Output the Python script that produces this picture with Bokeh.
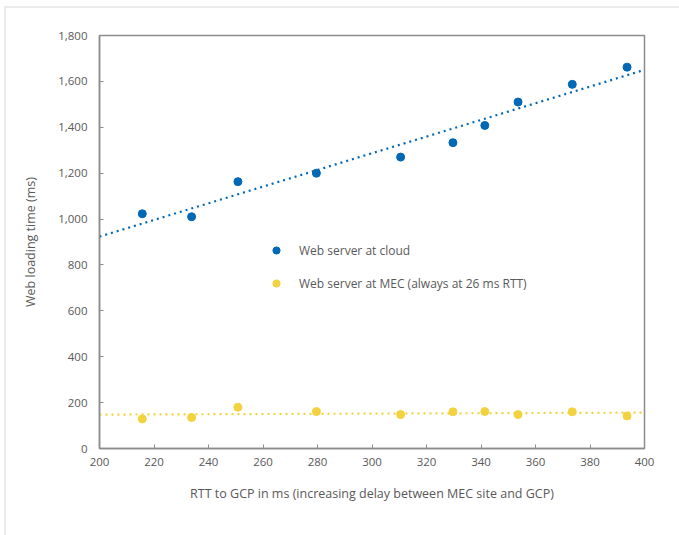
import numpy as np
from bokeh.plotting import figure
from bokeh.models import Range1d, FixedTicker, NumeralTickFormatter, Legend, LegendItem, ColumnDataSource
from bokeh.embed import file_html
from bokeh.resources import INLINE

# ---- data ----
rtt_ms = [215.7, 233.8, 250.8, 279.6, 310.5, 329.7, 341.4, 353.6, 373.5, 393.6]
cloud_ms = [1023, 1010, 1163, 1200, 1270, 1333, 1408, 1510, 1587, 1662]
mec_ms = [129, 135, 180, 161, 148, 160, 161, 148, 160, 142]
x_ticks = [200, 220, 240, 260, 280, 300, 320, 340, 360, 380, 400]
y_ticks = [0, 200, 400, 600, 800, 1000, 1200, 1400, 1600, 1800]
series_names = ["Web server at cloud", "Web server at MEC (always at 26 ms RTT)"]

BLUE = "#0068B5"
YELLOW = "#F3D23F"
GREY_TEXT = "#595959"
FRAME = "#8c8c8c"
FONT = "Open Sans"

p = figure(width=679, height=535, output_backend="svg", toolbar_location=None,
           x_range=Range1d(200, 400), y_range=Range1d(0, 1800),
           min_border_left=99, min_border_right=35, min_border_top=35, min_border_bottom=87)
p.frame_width = 545
p.frame_height = 413

p.xgrid.visible = False
p.ygrid.visible = False
p.outline_line_color = FRAME
p.outline_line_width = 1.5
p.background_fill_color = "white"
p.border_fill_alpha = 0
p.styles = {
    "background": "linear-gradient(#ebebeb,#ebebeb) 4px 6px / 2px 100% no-repeat, "
                  "linear-gradient(#ebebeb,#ebebeb) 4px 6px / 100% 2px no-repeat, white"
}

for ax in (p.xaxis[0], p.yaxis[0]):
    ax.axis_line_color = FRAME
    ax.axis_line_width = 1.5
    ax.major_tick_line_color = FRAME
    ax.major_tick_line_width = 1
    ax.major_tick_in = 4
    ax.major_tick_out = 0
    ax.minor_tick_line_color = None
    ax.major_label_text_color = GREY_TEXT
    ax.major_label_text_font = FONT
    ax.major_label_text_font_size = "11.5px"
    ax.axis_label_text_color = GREY_TEXT
    ax.axis_label_text_font = FONT
    ax.axis_label_text_font_style = "normal"
    ax.axis_label_text_font_size = "12.5px"

p.xaxis.ticker = FixedTicker(ticks=x_ticks)
p.yaxis.ticker = FixedTicker(ticks=y_ticks)
p.yaxis.formatter = NumeralTickFormatter(format="0,0")
p.xaxis.major_label_standoff = 9
p.yaxis.major_label_standoff = 12
p.xaxis.axis_label = "RTT to GCP in ms (increasing delay between MEC site and GCP)"
p.yaxis.axis_label = "Web loading time (ms)"
p.xaxis.axis_label_standoff = 16
p.yaxis.axis_label_standoff = 16

# trend lines (least squares fit of each series)
xs_fit = [200, 400]
c_fit = np.polyfit(rtt_ms, cloud_ms, 1)
m_fit = np.polyfit(rtt_ms, mec_ms, 1)
p.line(xs_fit, list(np.polyval(c_fit, xs_fit)), line_color=BLUE, line_width=2.2, line_dash="2 4")
p.line(xs_fit, list(np.polyval(m_fit, xs_fit)), line_color=YELLOW, line_width=2.2, line_dash="2 4")

src = ColumnDataSource(dict(x=rtt_ms, cloud=cloud_ms, mec=mec_ms))
r_cloud = p.scatter("x", "cloud", source=src, size=8, fill_color=BLUE, line_color=BLUE)
r_mec = p.scatter("x", "mec", source=src, size=8, fill_color=YELLOW, line_color=YELLOW)

legend = Legend(items=[LegendItem(label=series_names[0], renderers=[r_cloud]),
                       LegendItem(label=series_names[1], renderers=[r_mec])],
                location=(168, 156))
legend.border_line_color = None
legend.background_fill_alpha = 0
legend.padding = 0
legend.margin = 0
legend.spacing = 15
legend.glyph_width = 18
legend.glyph_height = 18
legend.label_standoff = 14
legend.label_text_color = GREY_TEXT
legend.label_text_font = FONT
legend.label_text_font_size = "12px"
p.add_layout(legend)

open("out.html", "w").write(file_html(p, INLINE))
